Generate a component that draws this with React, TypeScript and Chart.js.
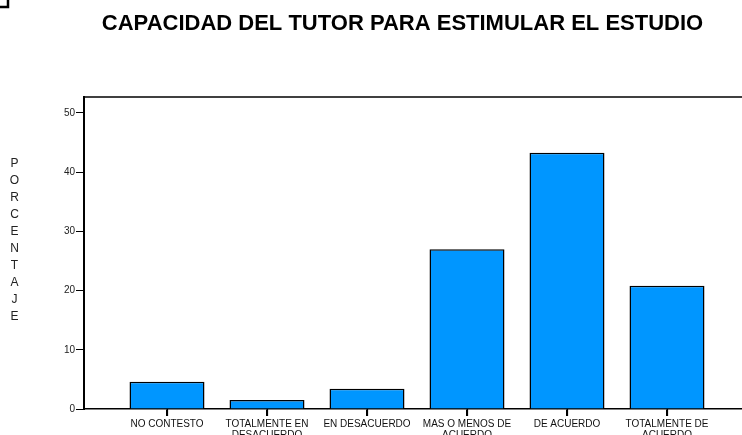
import React, { useEffect, useRef } from "react";
import { Chart, registerables } from "chart.js";

Chart.register(...registerables);

const title = "CAPACIDAD DEL TUTOR PARA ESTIMULAR EL ESTUDIO";
const yTitle = "PORCENTAJE";
const categories: string[][] = [
  ["NO CONTESTO"],
  ["TOTALMENTE EN", "DESACUERDO"],
  ["EN DESACUERDO"],
  ["MAS O MENOS DE", "ACUERDO"],
  ["DE ACUERDO"],
  ["TOTALMENTE DE", "ACUERDO"],
];
const percentages = [4.6, 1.5, 3.4, 27.0, 43.3, 20.8];
const yTicks = [0, 10, 20, 30, 40, 50];
const yMax = 52.7;
const xMin = -0.83;
const xMax = 5.75;

const FONT = "'Liberation Sans', Arial, Helvetica, sans-serif";

const decorPlugin = {
  id: "decor",
  afterDraw(chart: any) {
    const ctx = chart.ctx as CanvasRenderingContext2D;
    const area = chart.chartArea;
    const xs = chart.scales.x;
    ctx.save();
    ctx.strokeStyle = "#000";
    // x tick marks at category centres
    ctx.lineWidth = 1.2;
    ctx.beginPath();
    categories.forEach((_, i) => {
      const px = Math.round(xs.getPixelForValue(i)) + 0.5;
      ctx.moveTo(px, area.bottom);
      ctx.lineTo(px, area.bottom + 7);
    });
    ctx.stroke();
    // top frame line
    ctx.lineWidth = 1.5;
    ctx.beginPath();
    ctx.moveTo(area.left, area.top);
    ctx.lineTo(area.right, area.top);
    ctx.stroke();
    // corner mark
    ctx.lineWidth = 2.5;
    ctx.beginPath();
    ctx.moveTo(0, 7);
    ctx.lineTo(8, 7);
    ctx.lineTo(8, 0);
    ctx.stroke();
    // title
    ctx.fillStyle = "#000";
    ctx.font = `bold 22px ${FONT}`;
    ctx.textAlign = "center";
    ctx.textBaseline = "alphabetic";
    ctx.fillText(title, 402.5, 30);
    // vertical y-axis title
    ctx.font = `12px ${FONT}`;
    ctx.fillStyle = "#222";
    yTitle.split("").forEach((ch, i) => {
      ctx.fillText(ch, 14.5, 167 + i * 17);
    });
    ctx.restore();
  },
};

export default function App() {
  const canvasRef = useRef<HTMLCanvasElement | null>(null);

  useEffect(() => {
    document.body.style.margin = "0";
    const canvas = canvasRef.current;
    if (!canvas) return;
    const chart = new Chart(canvas, {
      type: "bar",
      data: {
        datasets: [
          {
            data: percentages.map((v, i) => ({ x: i, y: v })),
            backgroundColor: "#0096ff",
            borderColor: "#000",
            borderWidth: 1.5,
            categoryPercentage: 1,
            barPercentage: 0.75,
          } as any,
        ],
      },
      options: {
        responsive: false,
        animation: false,
        layout: { padding: { top: 97, left: 0, right: 0, bottom: 0 } },
        plugins: {
          legend: { display: false },
          tooltip: { enabled: false },
          title: { display: false },
        },
        scales: {
          x: {
            type: "linear",
            min: xMin,
            max: xMax,
            offset: false,
            afterBuildTicks: (scale: any) => {
              scale.ticks = categories.map((_, i) => ({ value: i }));
            },
            afterFit: (scale: any) => {
              scale.height = 26;
            },
            ticks: {
              autoSkip: false,
              maxRotation: 0,
              minRotation: 0,
              padding: 3,
              color: "#111",
              font: { family: FONT, size: 10, lineHeight: 1.1 },
              callback: (value: any) => categories[Math.round(Number(value))] ?? "",
            },
            grid: {
              display: true,
              offset: false,
              drawOnChartArea: false,
              drawTicks: true,
              tickLength: 7,
              color: "#000",
              lineWidth: 1.2,
            },
            border: { display: true, color: "#000", width: 1.5 },
          },
          y: {
            type: "linear",
            min: 0,
            max: yMax,
            afterBuildTicks: (scale: any) => {
              scale.ticks = yTicks.map((v) => ({ value: v }));
            },
            afterFit: (scale: any) => {
              scale.width = 84;
            },
            ticks: {
              padding: 1,
              color: "#222",
              font: { family: FONT, size: 10 },
            },
            grid: {
              display: true,
              drawOnChartArea: false,
              drawTicks: true,
              tickLength: 8,
              color: "#000",
              lineWidth: 1,
            },
            border: { display: true, color: "#000", width: 2 },
          },
        },
      },
      plugins: [decorPlugin],
    });
    return () => chart.destroy();
  }, []);

  return (
    <div style={{ width: 742, height: 435, background: "#fff" }}>
      <canvas ref={canvasRef} width={742} height={435} style={{ display: "block" }} />
    </div>
  );
}
